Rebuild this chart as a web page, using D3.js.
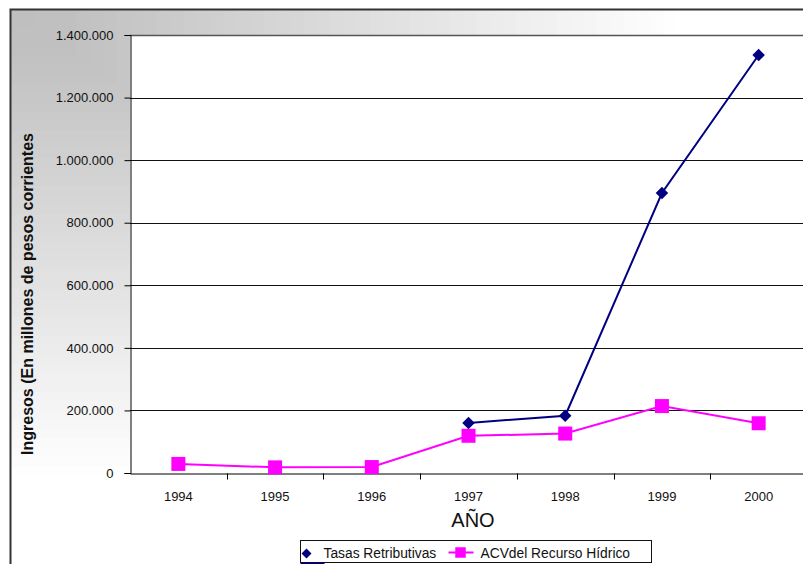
<!DOCTYPE html>
<html>
<head>
<meta charset="utf-8">
<script src="https://cdn.jsdelivr.net/npm/d3@7"></script>
<style>
  body { margin: 0; background: #fff; }
  text { font-family: "Liberation Sans", Arial, sans-serif; }
</style>
</head>
<body>
<svg id="canvas"></svg>
<script>
// Data
var years = ['1994', '1995', '1996', '1997', '1998', '1999', '2000'];
var tasas = [null, null, null, 160000, 183000, 895000, 1336000];
var acv = [29000, 18000, 19000, 119000, 126000, 214000, 159000];
var yTicks = [0, 200000, 400000, 600000, 800000, 1000000, 1200000, 1400000];
var seriesNames = ['Tasas Retributivas', 'ACVdel Recurso Hídrico'];

// Canvas size
var canvasWidth = 803;
var canvasHeight = 564;

var margin = {
  top: 35,
  right: -4,
  bottom: 91,
  left: 130
};

var svg = d3.select('#canvas')
  .attr('width', canvasWidth)
  .attr('height', canvasHeight);

// Background: corner gradient in bands
var bg = svg.append('g');
var bandCount = 60;
var shade = d3.scaleLinear()
  .domain([0, 0.08, 0.85, 1])
  .range(['#bfbfbf', '#c0c0c0', '#ffffff', '#ffffff'])
  .clamp(true);
for (var i = bandCount; i >= 1; i--) {
  var t = i / bandCount;
  bg.append('rect')
    .attr('x', 10)
    .attr('y', 9)
    .attr('width', t * 800)
    .attr('height', t * 560)
    .attr('fill', shade(t));
}

// Outer frame
svg.append('path')
  .attr('d', 'M10.5,' + canvasHeight + 'V9.5H' + canvasWidth)
  .attr('fill', 'none')
  .attr('stroke', '#333')
  .attr('stroke-width', 2);

// Scales
var xScale = d3.scaleBand()
  .domain(years)
  .range([margin.left, canvasWidth - margin.right]);

var yScale = d3.scaleLinear()
  .domain([0, 1400000])
  .range([canvasHeight - margin.bottom, margin.top]);

var locale = d3.formatLocale({
  decimal: ',',
  thousands: '.',
  grouping: [3],
  currency: ['$', '']
});
var fmt = locale.format(',d');

// Plot area
svg.append('rect')
  .attr('x', margin.left)
  .attr('y', margin.top)
  .attr('width', canvasWidth - margin.right - margin.left)
  .attr('height', canvasHeight - margin.bottom - margin.top)
  .attr('fill', '#fff');

// Gridlines
svg.append('g')
  .selectAll('line')
  .data(yTicks.slice(1))
  .enter()
  .append('line')
  .attr('x1', margin.left)
  .attr('x2', canvasWidth)
  .attr('y1', function(d) { return Math.round(yScale(d)) + 0.5; })
  .attr('y2', function(d) { return Math.round(yScale(d)) + 0.5; })
  .attr('stroke', function(d) { return d === 1400000 ? '#555' : '#111'; })
  .attr('stroke-width', function(d) { return d === 1400000 ? 1.5 : 1; });

// Axes
var yAxis = d3.axisLeft(yScale)
  .tickValues(yTicks)
  .tickSize(6)
  .tickPadding(11)
  .tickFormat(fmt);

var xAxis = d3.axisBottom(xScale)
  .tickSize(0)
  .tickPadding(18);

var yAxisG = svg.append('g')
  .attr('class', 'y-axis')
  .attr('transform', 'translate(' + (margin.left + 0.5) + ',0)')
  .call(yAxis);
yAxisG.select('.domain').attr('stroke', '#000');
yAxisG.selectAll('.tick line').attr('stroke', '#000');
yAxisG.selectAll('text')
  .attr('font-size', 13)
  .attr('fill', '#111');

var xAxisG = svg.append('g')
  .attr('class', 'x-axis')
  .attr('transform', 'translate(0,' + (Math.round(yScale(0)) + 0.5) + ')')
  .call(xAxis);
xAxisG.select('.domain').attr('stroke', '#000').attr('stroke-width', 1.2);
xAxisG.selectAll('text')
  .attr('font-size', 13)
  .attr('fill', '#111');

// Category boundary ticks
xAxisG.append('g')
  .selectAll('line')
  .data(years.slice(1))
  .enter()
  .append('line')
  .attr('x1', function(d) { return Math.round(xScale(d)) + 0.5; })
  .attr('x2', function(d) { return Math.round(xScale(d)) + 0.5; })
  .attr('y1', 0)
  .attr('y2', 6)
  .attr('stroke', '#000');

// Axis titles
svg.append('text')
  .attr('transform', 'translate(33,294) rotate(-90)')
  .attr('text-anchor', 'middle')
  .attr('font-size', 16)
  .attr('font-weight', 'bold')
  .attr('fill', '#111')
  .text('Ingresos (En millones de pesos corrientes');

svg.append('text')
  .attr('x', 473)
  .attr('y', 527)
  .attr('text-anchor', 'middle')
  .attr('font-size', 20)
  .attr('fill', '#111')
  .text('AÑO');

// Lines
function cx(d, i) {
  return xScale(years[i]) + xScale.bandwidth() / 2;
}

var line = d3.line()
  .defined(function(d) { return d !== null; })
  .x(cx)
  .y(function(d) { return yScale(d); });

svg.append('path')
  .datum(acv)
  .attr('d', line)
  .attr('fill', 'none')
  .attr('stroke', '#ff00ff')
  .attr('stroke-width', 2);

svg.append('path')
  .datum(tasas)
  .attr('d', line)
  .attr('fill', 'none')
  .attr('stroke', '#000080')
  .attr('stroke-width', 2);

// Markers
var diamond = d3.symbol().type(d3.symbolSquare).size(78);
var square = d3.symbol().type(d3.symbolSquare).size(196);

svg.append('g')
  .selectAll('path')
  .data(acv)
  .enter()
  .append('path')
  .attr('d', square)
  .attr('transform', function(d, i) {
    return 'translate(' + cx(d, i) + ',' + yScale(d) + ')';
  })
  .attr('fill', '#ff00ff');

svg.append('g')
  .selectAll('path')
  .data(tasas)
  .enter()
  .filter(function(d) { return d !== null; })
  .append('path')
  .attr('d', diamond)
  .attr('transform', function(d, i) {
    return 'translate(' + cx(d, tasas.indexOf(d)) + ',' + yScale(d) + ') rotate(45)';
  })
  .attr('fill', '#000080');

// Legend
var legend = svg.append('g')
  .attr('transform', 'translate(300.5,540.5)');

legend.append('rect')
  .attr('width', 351)
  .attr('height', 22)
  .attr('fill', '#fff')
  .attr('stroke', '#111');

legend.append('path')
  .attr('d', d3.symbol().type(d3.symbolSquare).size(50))
  .attr('transform', 'translate(6,13) rotate(45)')
  .attr('fill', '#000080');

legend.append('text')
  .attr('x', 23)
  .attr('y', 17)
  .attr('font-size', 13.8)
  .attr('fill', '#111')
  .text(seriesNames[0]);

legend.append('line')
  .attr('x1', 148)
  .attr('x2', 173)
  .attr('y1', 12)
  .attr('y2', 12)
  .attr('stroke', '#ff00ff')
  .attr('stroke-width', 2);

legend.append('path')
  .attr('d', d3.symbol().type(d3.symbolSquare).size(110))
  .attr('transform', 'translate(160,12)')
  .attr('fill', '#ff00ff');

legend.append('text')
  .attr('x', 180)
  .attr('y', 17)
  .attr('font-size', 13.8)
  .attr('fill', '#111')
  .text(seriesNames[1]);

// Navy key fragment beneath legend box
legend.append('line')
  .attr('x1', 0)
  .attr('x2', 24)
  .attr('y1', 23)
  .attr('y2', 23)
  .attr('stroke', '#000080')
  .attr('stroke-width', 2);
</script>
</body>
</html>
